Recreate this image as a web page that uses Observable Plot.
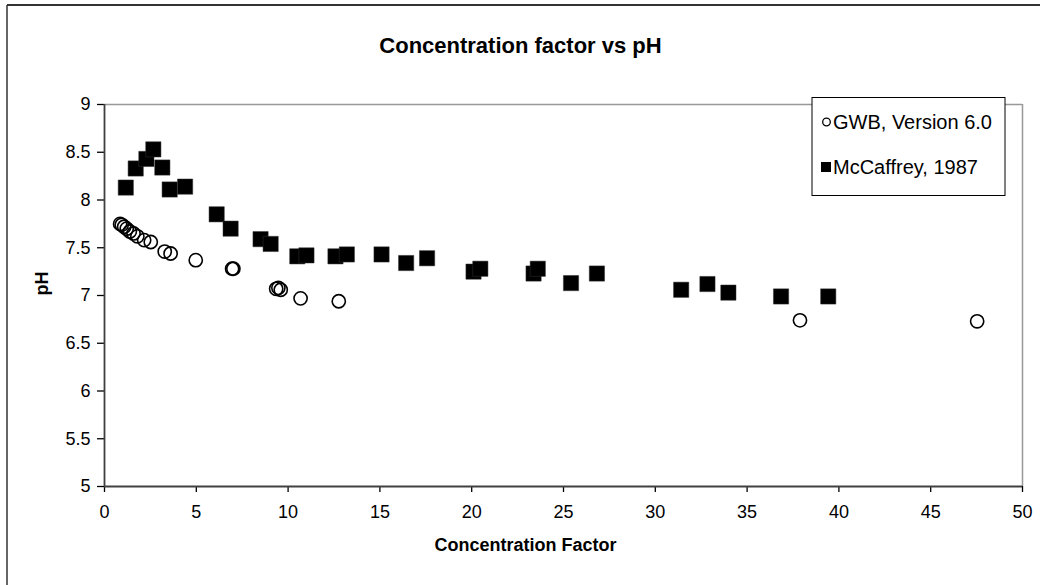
<!DOCTYPE html>
<html>
<head>
<meta charset="utf-8">
<script src="https://cdn.jsdelivr.net/npm/d3@7"></script>
<script src="https://cdn.jsdelivr.net/npm/@observablehq/plot@0.6"></script>
<style>
  html, body { margin: 0; padding: 0; background: #fff; }
  svg { display: block; }
</style>
</head>
<body>
<script>
// Data
const gwbX  = [0.85, 0.94, 1.07, 1.21, 1.38, 1.58, 1.79, 2.16, 2.52, 3.28, 3.60, 4.97, 6.95, 7.02, 9.35, 9.47, 9.60, 10.68, 12.76, 37.88, 47.53];
const gwbPH = [7.75, 7.74, 7.72, 7.70, 7.67, 7.65, 7.62, 7.58, 7.56, 7.46, 7.44, 7.37, 7.28, 7.28, 7.07, 7.08, 7.06, 6.97, 6.94, 6.74, 6.73];

const mcX  = [1.16, 1.70, 2.28, 2.66, 3.15, 3.55, 4.39, 6.11, 6.87, 8.50, 9.05, 10.50, 11.00, 12.58, 13.20, 15.09, 16.43, 17.57, 20.10, 20.47, 23.37, 23.60, 25.41, 26.82, 31.41, 32.84, 33.98, 36.85, 39.42];
const mcPH = [8.13, 8.33, 8.43, 8.53, 8.34, 8.11, 8.14, 7.85, 7.70, 7.59, 7.54, 7.41, 7.42, 7.41, 7.43, 7.43, 7.34, 7.39, 7.25, 7.28, 7.23, 7.28, 7.13, 7.23, 7.06, 7.12, 7.03, 6.99, 6.99];

const xTicks = [0, 5, 10, 15, 20, 25, 30, 35, 40, 45, 50];
const yTicks = [5, 5.5, 6, 6.5, 7, 7.5, 8, 8.5, 9];

const seriesNames = ["GWB, Version 6.0", "McCaffrey, 1987"];
const titleText = "Concentration factor vs pH";
const xLabel = "Concentration Factor";
const yLabel = "pH";

const gwb = gwbX.map((x, i) => ({x, y: gwbPH[i]}));
const mc  = mcX.map((x, i) => ({x, y: mcPH[i]}));

const FONT = "'Liberation Sans', Arial, sans-serif";

const svg = Plot.plot({
  width: 1040,
  height: 585,
  marginTop: 104,
  marginRight: 18,
  marginBottom: 99,
  marginLeft: 104,
  style: { fontFamily: FONT, fontSize: "18px", color: "#000", background: "#fff", overflow: "visible" },
  x: { domain: [0, 50] },
  y: { domain: [5, 9] },
  marks: [
    Plot.ruleY([9], { stroke: "#999", strokeWidth: 1.5 }),
    Plot.ruleX([50], { stroke: "#999", strokeWidth: 1.5 }),
    Plot.axisX({ ticks: xTicks, tickSize: 6, tickPadding: 13, label: null, tickFormat: d => `${d}`, strokeWidth: 1.3 }),
    Plot.axisY({ ticks: yTicks, tickSize: 7, tickPadding: 7, label: null, tickFormat: d => `${d}`, strokeWidth: 1.3 }),
    Plot.ruleX([0], { stroke: "#404040", strokeWidth: 1.8 }),
    Plot.ruleY([5], { stroke: "#404040", strokeWidth: 1.8 }),
    Plot.dot(mc, { x: "x", y: "y", symbol: "square", r: 8.6, fill: "#000", stroke: "#333", strokeWidth: 0.5 }),
    Plot.dot(gwb, { x: "x", y: "y", symbol: "circle", r: 6.6, fill: "none", stroke: "#000", strokeWidth: 1.6 }),
    Plot.text([titleText], { text: d => d, frameAnchor: "top", dx: -43, dy: -67, fontSize: 22, fontWeight: "bold" }),
    Plot.text([xLabel], { text: d => d, frameAnchor: "bottom", dx: -38, dy: 64, fontSize: 18, fontWeight: "bold" }),
    Plot.text([yLabel], { text: d => d, frameAnchor: "left", dx: -62, dy: 0, rotate: -90, fontSize: 18, fontWeight: "bold" })
  ]
});

document.body.appendChild(svg);

// Outer chart border (top and left visible in the reference)
const s = d3.select(svg);
s.append("line").attr("x1", 7).attr("y1", 5).attr("x2", 1040).attr("y2", 5)
  .attr("stroke", "#333").attr("stroke-width", 2);
s.append("line").attr("x1", 7).attr("y1", 5).attr("x2", 7).attr("y2", 585)
  .attr("stroke", "#333").attr("stroke-width", 1.5);

// Legend box inside the plot area, top-right
const lg = s.append("g").attr("font-family", FONT).attr("font-size", 20).attr("text-anchor", "start");
lg.append("rect").attr("x", 812).attr("y", 97.5).attr("width", 193).attr("height", 98)
  .attr("fill", "#fff").attr("stroke", "#000").attr("stroke-width", 1);
lg.append("circle").attr("cx", 826.5).attr("cy", 122).attr("r", 3.8)
  .attr("fill", "none").attr("stroke", "#000").attr("stroke-width", 1.3);
lg.append("rect").attr("x", 821).attr("y", 162).attr("width", 10).attr("height", 10)
  .attr("fill", "#000");
lg.append("text").attr("x", 833).attr("y", 122).attr("dy", "0.35em").attr("text-anchor", "start").text(seriesNames[0]);
lg.append("text").attr("x", 833).attr("y", 167).attr("dy", "0.35em").attr("text-anchor", "start").text(seriesNames[1]);
</script>
</body>
</html>
